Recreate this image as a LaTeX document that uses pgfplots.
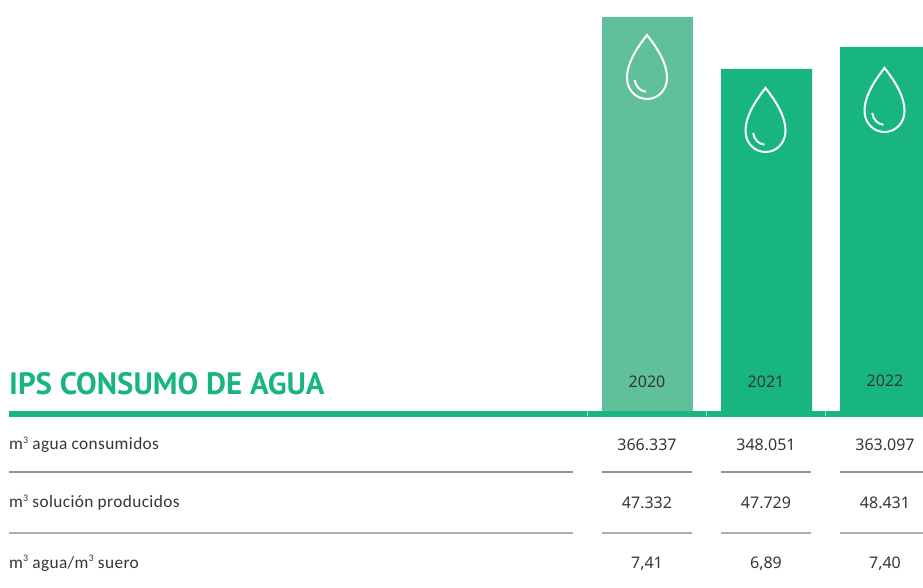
\documentclass[border=0pt]{standalone}
\usepackage{fontspec}
\usepackage{pgfplots}
\pgfplotsset{compat=1.18}
\setmainfont{Noto Sans}
\newfontfamily\lab[LetterSpace=2.2]{Carlito}
\newfontfamily\ttl{PT Sans}
\definecolor{gdark}{HTML}{18B583}
\definecolor{glight}{HTML}{5FC09A}
\definecolor{ink}{HTML}{363636}
\pgfdeclareplotmark{drop}{%
  \pgfpathmoveto{\pgfqpoint{0pt}{32pt}}%
  \pgfpathcurveto{\pgfqpoint{7pt}{23pt}}{\pgfqpoint{20pt}{6pt}}{\pgfqpoint{20pt}{-11pt}}%
  \pgfpathcurveto{\pgfqpoint{20pt}{-23pt}}{\pgfqpoint{11pt}{-32pt}}{\pgfqpoint{0pt}{-32pt}}%
  \pgfpathcurveto{\pgfqpoint{-11pt}{-32pt}}{\pgfqpoint{-20pt}{-23pt}}{\pgfqpoint{-20pt}{-11pt}}%
  \pgfpathcurveto{\pgfqpoint{-20pt}{6pt}}{\pgfqpoint{-7pt}{23pt}}{\pgfqpoint{0pt}{32pt}}%
  \pgfpathclose
  \pgfpathmoveto{\pgfqpoint{-12.3pt}{-13pt}}%
  \pgfpathcurveto{\pgfqpoint{-11.5pt}{-20pt}}{\pgfqpoint{-6pt}{-24.5pt}}{\pgfqpoint{-1pt}{-24.7pt}}%
  \pgfusepathqstroke
}
\newcommand{\sq}{\raisebox{6.5pt}{\fontsize{10}{10}\selectfont 3}}
\newcommand{\valtxt}[3]{\node[anchor=base, inner sep=0pt, text=ink, font=\fontsize{16}{16}\selectfont] at (axis cs:#1,#2) {#3};}
\newcommand{\labtxt}[2]{\node[anchor=base west, inner sep=0pt, text=ink, font=\lab\fontsize{17.3}{18}\selectfont] at (axis cs:9,#1) {#2};}
\newcommand{\rules}[2]{%
  \draw[color=black!42, line width=1.1pt] (axis cs:#1,-61) -- (axis cs:#2,-61);
  \draw[color=black!32, line width=1.1pt] (axis cs:#1,-122) -- (axis cs:#2,-122);}
\begin{document}
\begin{tikzpicture}
\useasboundingbox (0,0) rectangle (923pt,588pt);
\begin{axis}[
  scale only axis, width=923pt, height=588pt,
  xmin=0, xmax=923, ymin=-177, ymax=411,
  hide axis, clip=true,
  ybar, bar width=91, bar shift=0pt,
]
\addplot[fill=glight, draw=none] coordinates {(647.5,394)};
\addplot[fill=gdark, draw=none] coordinates {(766.5,342) (885.5,364)};
\addplot[only marks, mark=drop, mark options={draw=white, line width=2pt, fill=none}] coordinates {(647,344) (765.5,291) (884.5,311)};
\fill[gdark] (axis cs:9,-6) rectangle (axis cs:923,0);
\draw[white, opacity=0.6, line width=0.4pt] (axis cs:587,-5) -- (axis cs:587,0);
\draw[white, opacity=0.6, line width=0.4pt] (axis cs:706,-5) -- (axis cs:706,0);
\draw[white, opacity=0.6, line width=0.4pt] (axis cs:825,-5) -- (axis cs:825,0);
\rules{9}{573}
\rules{602}{692}
\rules{721}{811}
\rules{840}{923}
\node[anchor=base west, inner sep=0pt, text=gdark, font=\ttl\bfseries\fontsize{30.9}{32}\selectfont] at (axis cs:9,16) {IPS CONSUMO DE AGUA};
\valtxt{647}{23.5}{2020}
\valtxt{766}{23.5}{2021}
\valtxt{885}{24.5}{2022}
\labtxt{-39}{m\sq{} agua consumidos}
\labtxt{-97}{m\sq{} solución producidos}
\labtxt{-157.5}{m\sq{} agua/m\sq{} suero}
\valtxt{647}{-39.5}{366.337}
\valtxt{647}{-97.5}{47.332}
\valtxt{647}{-157.5}{7,41}
\valtxt{766}{-39.5}{348.051}
\valtxt{766}{-97.5}{47.729}
\valtxt{766}{-157.5}{6,89}
\valtxt{885}{-39.5}{363.097}
\valtxt{885}{-97.5}{48.431}
\valtxt{885}{-157.5}{7,40}
\end{axis}
\end{tikzpicture}
\end{document}
